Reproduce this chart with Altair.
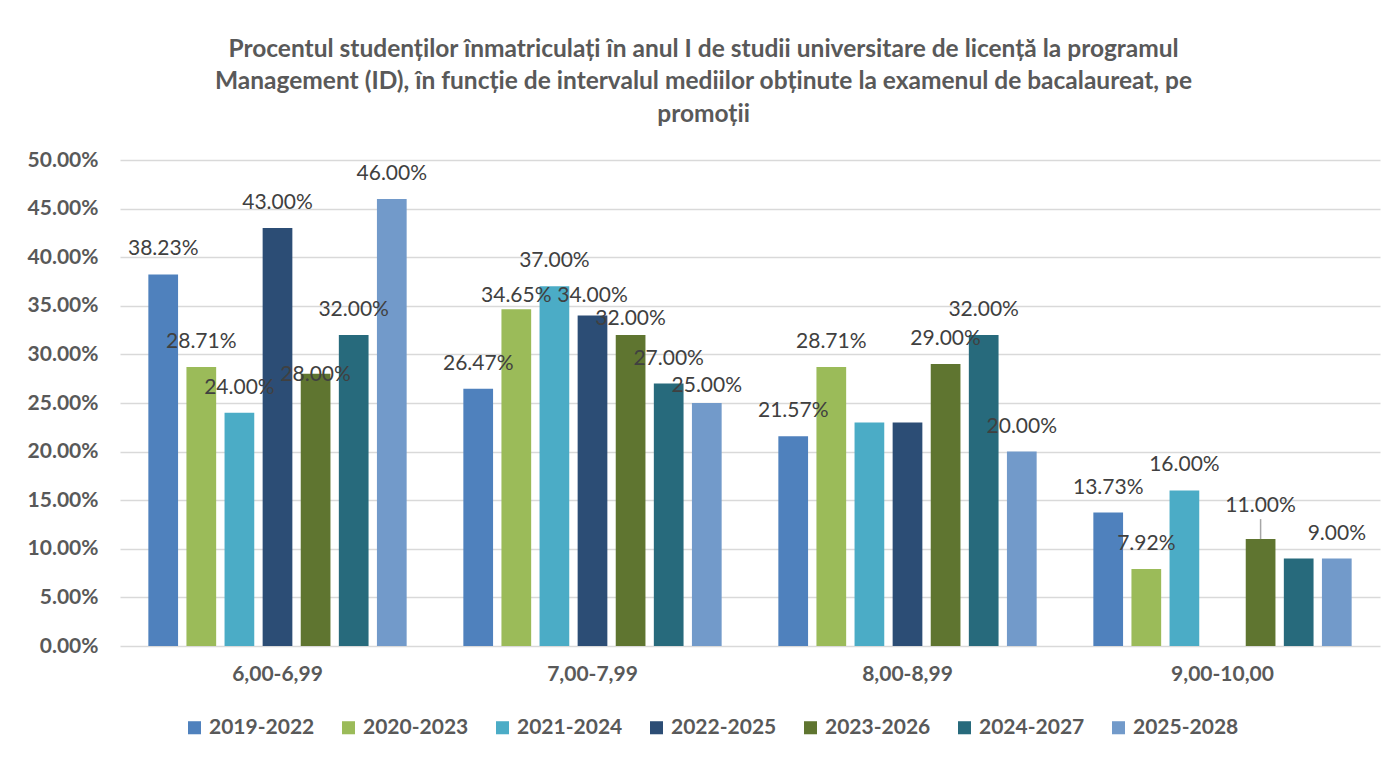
import altair as alt
import pandas as pd

categories = ["6,00-6,99", "7,00-7,99", "8,00-8,99", "9,00-10,00"]
series = ["2019-2022", "2020-2023", "2021-2024", "2022-2025", "2023-2026", "2024-2027", "2025-2028"]
colors = ["#4F81BD", "#9BBB59", "#4BACC6", "#2C4D75", "#5F7530", "#276A7C", "#729ACA"]

v2019_2022 = [0.3823, 0.2647, 0.2157, 0.1373]
v2020_2023 = [0.2871, 0.3465, 0.2871, 0.0792]
v2021_2024 = [0.24, 0.37, 0.23, 0.16]
v2022_2025 = [0.43, 0.34, 0.23, None]
v2023_2026 = [0.28, 0.32, 0.29, 0.11]
v2024_2027 = [0.32, 0.27, 0.32, 0.09]
v2025_2028 = [0.46, 0.25, 0.20, 0.09]

# data labels not shown in the original
hidden_labels = [("8,00-8,99", "2021-2024"), ("8,00-8,99", "2022-2025"), ("9,00-10,00", "2024-2027")]
# labels that the original places closer to (or further from) the bar top, in pixels
label_nudge = {("6,00-6,99", "2023-2026"): 26, ("7,00-7,99", "2020-2023"): 12,
               ("7,00-7,99", "2022-2025"): 5, ("7,00-7,99", "2023-2026"): 9,
               ("7,00-7,99", "2025-2028"): 8, ("9,00-10,00", "2023-2026"): -8}
# labels drawn with a leader line
leader_labels = [("9,00-10,00", "2023-2026")]

all_values = [v2019_2022, v2020_2023, v2021_2024, v2022_2025, v2023_2026, v2024_2027, v2025_2028]
rows = []
for s, vals in zip(series, all_values):
    for c, v in zip(categories, vals):
        if v is None:
            continue
        lab = "" if (c, s) in hidden_labels else f"{v * 100:.2f}%"
        rows.append({"cat": c, "series": s, "value": v, "label": lab,
                     "nudge": label_nudge.get((c, s), 0), "leader": (c, s) in leader_labels})
df = pd.DataFrame(rows)

FONT = "Lato"
GREY = "#595959"

x_enc = alt.X("cat:N", sort=categories,
              scale=alt.Scale(paddingInner=0.18, paddingOuter=0.09),
              axis=alt.Axis(title=None, labelAngle=0, labelFontSize=21, labelFontWeight="bold",
                            labelColor=GREY, ticks=False, domain=False, labelPadding=17))
xo_enc = alt.XOffset("series:N", sort=series, scale=alt.Scale(domain=series, paddingInner=0.22))
y_enc = alt.Y("value:Q", scale=alt.Scale(domain=[0, 0.5]),
              axis=alt.Axis(title=None, format=".2%", values=[i * 0.05 for i in range(11)],
                            labelFontSize=21, labelFontWeight="bold", labelColor=GREY,
                            ticks=False, domain=False, gridColor="#d9d9d9", gridWidth=1.5,
                            labelPadding=22))

base = alt.Chart(df)
bars = base.mark_bar().encode(
    x=x_enc, xOffset=xo_enc, y=y_enc,
    color=alt.Color("series:N", sort=series, scale=alt.Scale(domain=series, range=colors),
                    legend=alt.Legend(title=None, orient="none", direction="horizontal", columns=7,
                                      legendX=64, legendY=557, symbolType="square", symbolSize=170,
                                      labelFontSize=21, labelFontWeight="bold", labelColor=GREY,
                                      columnPadding=23, symbolStrokeWidth=0, labelOffset=4)),
)

label_layers = []
for nd in sorted(set(df["nudge"])):
    label_layers.append(
        base.transform_filter(f"datum.nudge == {nd}")
        .mark_text(baseline="middle", dy=-25 + nd, fontSize=21, color="#404040", font=FONT)
        .encode(x=x_enc, xOffset=xo_enc, y=y_enc, text="label:N")
    )

leaders = base.transform_filter("datum.leader").mark_rule(color="#a6a6a6", strokeWidth=1.5,
                                                          y2Offset=-20).encode(
    x=x_enc, xOffset=xo_enc, y=y_enc, y2="value:Q"
)

chart = alt.layer(bars, leaders, *label_layers).properties(
    width=1260, height=486,
    padding={"left": 19, "top": 28, "right": 5, "bottom": 5},
    title=alt.Title(
        ["Procentul studenților înmatriculați în anul I de studii universitare de licență la programul",
         "Management (ID), în funcție de intervalul mediilor obținute la examenul de bacalaureat, pe",
         "promoții"],
        fontSize=24.5, fontWeight="bold", color=GREY, font=FONT, lineHeight=32.5, offset=22,
        anchor="middle", frame="bounds"),
).configure(font=FONT).configure_view(stroke=None)

chart.save("out.html", embed_options={"renderer": "svg", "actions": False})
